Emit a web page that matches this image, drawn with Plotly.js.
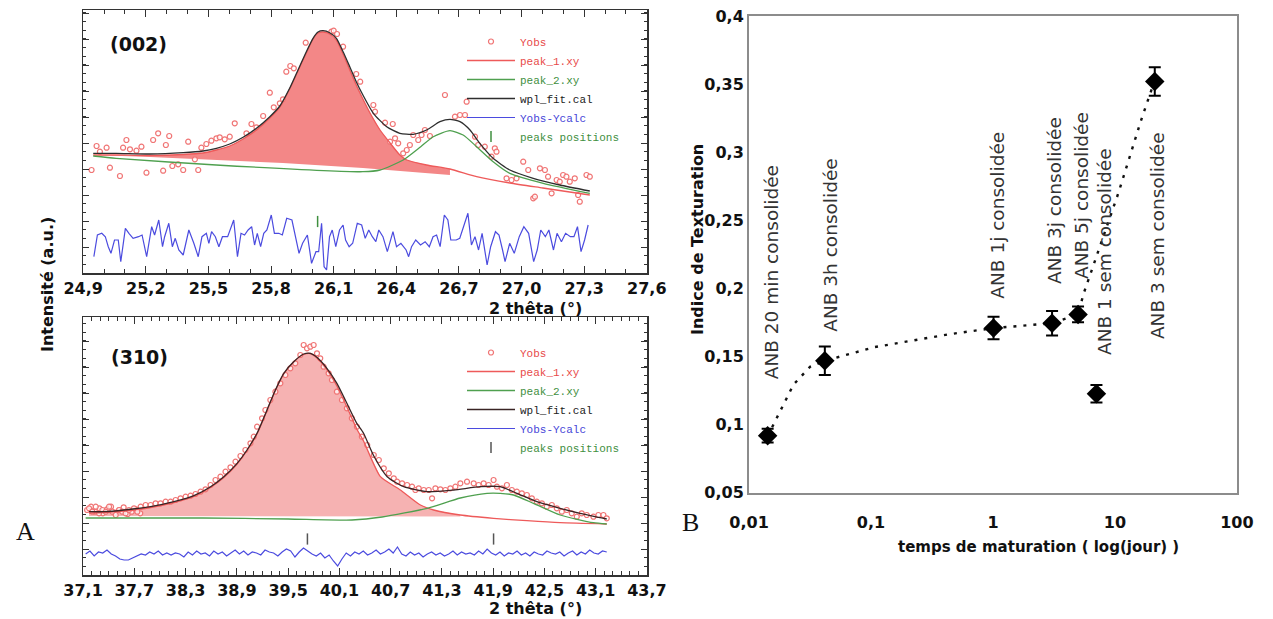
<!DOCTYPE html>
<html><head><meta charset="utf-8">
<script src="https://cdn.plot.ly/plotly-3.0.1.min.js"></script>
<style>html,body{margin:0;padding:0;background:#fff;}#chart{width:1273px;height:619px;}</style>
</head><body><div id="chart"></div>
<script>
// ================= DATA =================
// ---- Panel A top : reflection (002) ----
const topTickVals = [24.9,25.2,25.5,25.8,26.1,26.4,26.7,27.0,27.3,27.6];
const topTickText = ['24,9','25,2','25,5','25,8','26,1','26,4','26,7','27,0','27,3','27,6'];

const topObsX = [24.940,24.964,24.980,25.012,25.028,25.076,25.091,25.107,25.124,25.155,
25.179,25.203,25.235,25.259,25.283,25.296,25.312,25.327,25.355,25.379,
25.403,25.435,25.451,25.466,25.490,25.514,25.538,25.554,25.578,25.602,
25.626,25.682,25.706,25.730,25.762,25.794,25.813,25.842,25.857,25.873,
25.892,25.909,25.966,26.089,26.100,26.116,26.145,26.208,26.227,26.290,
26.298,26.346,26.370,26.383,26.394,26.409,26.433,26.450,26.465,26.481,
26.505,26.521,26.537,26.561,26.633,26.681,26.705,26.729,26.737,26.777,
26.792,26.824,26.856,26.872,26.880,26.928,26.952,26.976,27.008,27.032,
27.056,27.064,27.088,27.112,27.127,27.144,27.168,27.183,27.199,27.215,
27.231,27.255,27.271,27.279,27.311,27.327];
const topObsY = [103,127,121.3,125.3,105.3,97,125.3,133,123.7,122.3,
126.3,100.3,133,139.7,102.3,128,137,107,108.7,103,
131.3,113.7,103,125.3,129,132.3,134.7,135.7,133.7,136.3,
149.7,139.7,149,145.7,157,180.3,165.7,169.7,173.7,201.3,
207,204.7,230.3,241.3,242.3,239,226.3,199,191.3,168,
161.3,150.3,131.3,149,134.7,129.7,119.7,123,128,138,
133,138,143,137,178,156.3,158,158,171.3,136.3,
128,126.3,116.3,124.7,121.3,94.7,93,94.7,111.3,103,
74.7,76.3,104.7,103,96.3,79.7,93,91.3,98,96.3,
91.3,94.7,78,71.3,98,96.3];

const topPeak1X = [24.948,25.059,25.219,25.379,25.474,25.538,25.602,25.666,25.730,25.794,
25.842,25.889,25.929,25.969,26.001,26.025,26.049,26.081,26.113,26.145,
26.177,26.208,26.240,26.274,26.322,26.370,26.417,26.450,26.545,26.657,
26.785,26.944,27.102,27.327];
const topPeak1Y = [118,118,117.5,118.5,120,123,127,134,143,155,
166,184,202,220,234,240,241,239,233,219,
203,188,174,160,143,130,118,113,108,104,
96.3,90,85,78];
const topBaseX = [24.948,25.221,25.857,26.240,26.657];
const topBaseY = [118,116,110,105,98];

const topPeak2X = [24.948,25.058,25.537,26.240,26.322,26.433,26.517,26.577,26.657,26.720,26.785,26.864,26.944,27.104,27.327];
const topPeak2Y = [117,114.7,108,101.3,103,113,126.3,136.3,142.3,138,126.3,111.3,99.7,89.7,79.7];

const topFitX = [24.948,25.059,25.219,25.379,25.474,25.538,25.602,25.666,25.730,25.794,
25.842,25.889,25.929,25.969,26.001,26.025,26.049,26.081,26.113,26.145,
26.177,26.208,26.240,26.290,26.354,26.417,26.481,26.545,26.609,26.657,
26.705,26.753,26.800,26.864,26.944,27.056,27.183,27.327];
const topFitY = [119.7,119.7,119,120.3,122,124.7,129,135.7,144.7,156.3,
167,184.7,203,221.3,234.7,241,242.3,240.3,234.7,221.3,
206.3,191.3,178,159.7,146.3,139.7,138.7,143,151.3,153.7,
151.3,143,129.7,114.7,103,94.7,88,82];

const topResX = [24.951,24.968,24.989,25.006,25.020,25.033,25.050,25.068,25.080,25.102,
25.119,25.139,25.165,25.182,25.204,25.228,25.242,25.262,25.280,25.290,
25.310,25.327,25.341,25.358,25.379,25.406,25.430,25.451,25.469,25.490,
25.502,25.515,25.533,25.550,25.567,25.592,25.621,25.639,25.656,25.673,
25.690,25.707,25.721,25.734,25.750,25.765,25.780,25.801,25.816,25.837,
25.854,25.875,25.900,25.917,25.934,25.951,25.974,25.994,26.015,26.028,
26.042,26.054,26.066,26.080,26.093,26.110,26.128,26.145,26.157,26.174,
26.191,26.213,26.234,26.251,26.268,26.285,26.302,26.316,26.336,26.357,
26.384,26.401,26.422,26.447,26.459,26.473,26.493,26.516,26.538,26.558,
26.576,26.593,26.610,26.630,26.647,26.661,26.687,26.704,26.721,26.743,
26.760,26.777,26.794,26.811,26.835,26.852,26.875,26.892,26.909,26.921,
26.943,26.965,26.989,27.011,27.034,27.058,27.075,27.092,27.114,27.131,
27.153,27.170,27.191,27.211,27.234,27.251,27.268,27.285,27.302,27.319];
const topResY = [16.3,38,39.7,36.3,26.3,19.7,33,33,11.3,44.7,
39.7,34.7,36.3,38,16.3,46.3,38,53,26.3,36.3,
49.7,26.3,34.7,23,18,43,29.7,16.3,36.3,39.7,
29.7,41.3,36.3,26.3,36.3,36.3,53,16.3,39.7,38,
43,46.3,28,39.7,26.3,39.7,43,58,39.7,39.7,
38,54.7,53,36.3,19.7,29.7,38,9.7,21.3,21.3,
49.7,6.3,3,36.3,43,26.3,43,48,33,26.3,
29.7,49.7,48,34.7,43,36.3,31.3,43,36.3,21.3,
41.3,26.3,29.7,23,16.3,26.3,33,28,31.3,26.3,
36.3,38,26.3,58,53,33,33,34.7,46.3,59.7,
28,36.3,23,39.7,8,26.3,41.3,38,23,11.3,
29.7,19.7,36.3,46.3,39.7,11.3,23,43,36.3,43,
23,39.7,31.3,39.7,36.3,36.3,46.3,21.3,33,48];

const topPeakPosX = [26.023];
const topPeakPosY = [51.5];
const topFillEnd = 26.657;

// ---- Panel A bottom : reflection (310) ----
const botTickVals = [37.1,37.7,38.3,38.9,39.5,40.1,40.7,41.3,41.9,42.5,43.1,43.7];
const botTickText = ['37,1','37,7','38,3','38,9','39,5','40,1','40,7','41,3','41,9','42,5','43,1','43,7'];

const botObsX = [37.147,37.193,37.240,37.291,37.330,37.380,37.427,37.474,37.524,37.575,
37.622,37.669,37.719,37.769,
37.170,37.209,37.248,37.287,37.326,37.365,37.404,37.443,37.482,37.521,
37.559,37.598,37.637,37.696,37.735,37.774,37.832,37.891,37.949,38.007,
38.066,38.124,38.183,38.241,38.300,38.358,38.416,38.475,38.533,38.592,
38.650,38.708,38.767,38.825,38.884,38.942,39.000,39.059,39.098,39.137,
39.195,39.234,39.292,39.351,39.409,39.468,39.526,39.584,39.643,39.682,
39.721,39.760,39.799,39.838,39.876,39.915,39.974,40.013,40.071,40.130,
40.188,40.246,40.305,40.363,
40.426,40.503,40.562,40.620,40.679,40.737,40.776,40.834,40.893,40.951,
40.990,41.029,41.088,41.146,41.185,41.224,41.282,41.341,41.399,41.458,
41.516,41.594,41.672,41.730,41.789,41.847,41.905,41.944,42.003,42.061,
42.119,42.178,42.236,42.295,42.353,42.411,42.470,42.528,42.587,42.645,
42.704,42.762,42.820,42.879,42.937,42.996,43.074,43.132,43.191,43.230];
const botObsY = [65,68.3,63.3,66.7,61.7,65.7,68.3,62.3,65,67.7,
61,63.3,65.7,61.7,
66.7,63.3,68.3,61.7,65,63.3,68.3,63.3,60,65,
63.3,61.7,65,66.7,63.3,68.3,70,70,71.7,71.7,
73.3,73.3,75,76.7,78.3,79.3,81,83.3,85.7,90,
95,98.3,103.3,107.7,113.3,119,125,131.7,138.3,148.3,
156.7,165,175,183.3,191.7,200,206.7,211.7,220,230,
226.7,228.3,230,221.7,216.7,208.3,201.7,195,183.3,175,
166.7,156.7,148.3,138.3,
130,120,115,106.7,101.7,96.7,93.3,91.7,90,88.3,
85,86.7,85,85,76.7,86.7,85.7,85,86.7,88.3,
91.7,93.3,91.7,90,91.7,90,95,88.3,86.7,90,
85,83.3,81.7,80,76.7,73.3,71.7,68.3,70,66.7,
63.3,65,61.7,58.3,61.7,60,58.3,60,60,56.7];

const botPeak1X = [37.170,37.345,37.579,37.891,38.163,38.397,38.592,38.747,38.903,39.019,
39.136,39.253,39.351,39.449,39.565,39.682,39.760,39.837,39.954,40.071,
40.188,40.304,40.383,40.581,40.815,41.049,41.204,41.516,41.905,42.295,
42.684,43.230];
const botPeak1Y = [62,62.5,64,67.5,72.5,78.5,87.5,97.5,111,124.5,
141,164.5,184.5,201,213,220.5,221.5,217,205.5,189,
168,146,134,98.3,85,70,65,60,56.7,54.3,
52.3,51];
const botBaseX = [37.170,41.516];
const botBaseY = [59,58.5];

const botPeak2X = [37.130,38.500,39.500,40.248,40.600,41.127,41.516,41.828,41.983,42.139,42.372,42.684,43.073,43.230];
const botPeak2Y = [57,57,56,55,58,66.7,77,81.7,81.7,80,71.7,60,52.3,51];

const botFitX = [37.170,37.345,37.579,37.891,38.163,38.397,38.592,38.747,38.903,39.019,
39.136,39.253,39.351,39.449,39.565,39.682,39.760,39.837,39.954,40.071,
40.188,40.304,40.383,40.503,40.660,40.854,41.127,41.438,41.750,41.983,
42.178,42.412,42.684,42.918,43.230];
const botFitY = [63.3,63.3,65,68.3,73.3,79.3,88.3,98.3,111.7,125,
141.7,165,185,201.7,213.3,221,221.7,217.7,206.7,191.7,
171.7,151.7,141.7,119,98.3,88.3,83.3,85,88.3,88.3,
81.7,73.3,66.7,61.7,56];

const botResX = [37.13,37.18,37.23,37.28,37.33,37.38,37.43,37.48,37.53,37.58,
37.63,37.68,37.73,37.78,37.83,37.88,37.93,37.98,38.03,38.08,
38.13,38.18,38.23,38.28,38.33,38.38,38.43,38.48,38.53,38.58,
38.63,38.68,38.73,38.78,38.83,38.88,38.93,38.98,39.03,39.08,
39.13,39.18,39.23,39.28,39.33,39.38,39.43,39.48,39.53,39.58,
39.63,39.68,39.73,39.78,39.83,39.88,39.93,39.98,40.03,40.08,
40.13,40.18,40.23,40.28,40.33,40.38,40.43,40.48,40.53,40.58,
40.63,40.68,40.73,40.78,40.83,40.88,40.93,40.98,41.03,41.08,
41.13,41.18,41.23,41.28,41.33,41.38,41.43,41.48,41.53,41.58,
41.63,41.68,41.73,41.78,41.83,41.88,41.93,41.98,42.03,42.08,
42.13,42.18,42.23,42.28,42.33,42.38,42.43,42.48,42.53,42.58,
42.63,42.68,42.73,42.78,42.83,42.88,42.93,42.98,43.03,43.08,
43.13,43.18,43.23];
const botResY = [21,24,19,23,22,25,21,19,16,15,
15,17,19,21,20,23,21,24,20,22,
20,22,21,18,23,20,24,21,22,19,
24,21,23,19,22,25,21,24,20,23,
22,20,25,23,22,19,23,26,24,18,
23,27,24,21,19,22,17,20,14,9,
16,22,19,23,21,24,20,22,25,21,
23,26,22,28,21,19,23,20,22,18,
21,23,20,22,19,21,24,20,23,21,
22,20,24,21,26,22,20,23,19,22,
21,24,20,22,19,23,21,20,24,22,
21,23,19,22,24,20,23,21,25,22,
21,24,23];

const botPeakPosX = [39.726,41.905];
const botPeakPosY = [36,36];
const botFillEnd = 41.516;

// ---- Panel B : texturation index vs maturation time ----
const samples = ['ANB 20 min consolidée','ANB 3h consolidée','ANB 1j consolidée','ANB 3j consolidée','ANB 5j consolidée','ANB 1 sem consolidée','ANB 3 sem consolidée'];
const maturationDays = [0.0142,0.0418,1.01,3.05,4.98,7.05,21.2];
const texturation = [0.092,0.147,0.171,0.1745,0.181,0.1227,0.352];
const texturationErr = [0.005,0.0105,0.0083,0.009,0.0058,0.0064,0.0105];
const trendDays = [0.0142,0.0181,0.0231,0.0316,0.0418,0.107,0.433,1.01,3.05,4.98,5.52,10.7,16.3,21.2];
const trendIndex = [0.0916,0.1105,0.1294,0.1425,0.147,0.157,0.1664,0.171,0.1745,0.181,0.196,0.2705,0.323,0.353];
const rightXTickVals = [0.01,0.1,1,10,100];
const rightXTickText = ['0,01','0,1','1','10','100'];
const rightYTickVals = [0.05,0.1,0.15,0.2,0.25,0.3,0.35,0.4];
const rightYTickText = ['0,05','0,1','0,15','0,2','0,25','0,3','0,35','0,4'];

// ================= STYLE / LAYOUT =================
const W = 1273, H = 619;
const fx = p => p / W, fy = p => 1 - p / H;
const RED = '#ee5a5a', OBS = '#f07575', GREEN = '#4fa04f', BLACK = '#2e2e2e', BLUE = '#4b4bdf';
const span = (c, t) => '<span style="color:' + c + '">' + t + '</span>';

function filterUpTo(xs, ys, lim) {
  const ox = [], oy = [];
  xs.forEach((v, i) => { if (v <= lim + 1e-9) { ox.push(v); oy.push(ys[i]); } });
  return [ox, oy];
}

function panelTraces(ax, ay, lg, d) {
  const [fX, fY] = filterUpTo(d.p1x, d.p1y, d.fillEnd);
  return [
    {x: d.bx, y: d.by, xaxis: ax, yaxis: ay, mode: 'lines', line: {width: 0, color: 'rgba(0,0,0,0)'}, showlegend: false, hoverinfo: 'skip'},
    {x: fX, y: fY, xaxis: ax, yaxis: ay, mode: 'lines', fill: 'tonexty', fillcolor: d.fillColor, line: {width: 0, color: 'rgba(0,0,0,0)'}, showlegend: false, hoverinfo: 'skip'},
    {x: d.ox, y: d.oy, xaxis: ax, yaxis: ay, mode: 'markers', name: span('#e84a4a', 'Yobs'), legend: lg, legendrank: 1,
      marker: {symbol: 'circle', size: 5, color: 'rgba(255,255,255,0.75)', line: {color: OBS, width: 1.2}}},
    {x: d.p1x, y: d.p1y, xaxis: ax, yaxis: ay, mode: 'lines', name: span('#e84a4a', 'peak_1.xy'), legend: lg, legendrank: 2, line: {color: RED, width: 1.3, shape: 'spline', smoothing: 0.6}},
    {x: d.p2x, y: d.p2y, xaxis: ax, yaxis: ay, mode: 'lines', name: span('#3f8f3f', 'peak_2.xy'), legend: lg, legendrank: 3, line: {color: GREEN, width: 1.3, shape: 'spline', smoothing: 0.6}},
    {x: d.fx, y: d.fy, xaxis: ax, yaxis: ay, mode: 'lines', name: span('#222', 'wpl_fit.cal'), legend: lg, legendrank: 4, line: {color: d.fitColor, width: 1.3, shape: 'spline', smoothing: 0.6}},
    {x: d.rx, y: d.ry, xaxis: ax, yaxis: ay, mode: 'lines', name: span('#4646d8', 'Yobs-Ycalc'), legend: lg, legendrank: 5, line: {color: BLUE, width: 1.2}},
    {x: d.tx, y: d.ty, xaxis: ax, yaxis: ay, mode: 'markers', name: span('#3f8f3f', 'peaks positions'), legend: lg, legendrank: 6,
      marker: {symbol: 'line-ns', size: 8, color: d.tickColor, line: {color: d.tickColor, width: 1.5}}}
  ];
}

const traces = [].concat(
  panelTraces('x', 'y', 'legend', {p1x: topPeak1X, p1y: topPeak1Y, bx: topBaseX, by: topBaseY, fillEnd: topFillEnd, fillColor: '#f38787',
    ox: topObsX, oy: topObsY, p2x: topPeak2X, p2y: topPeak2Y, fx: topFitX, fy: topFitY, rx: topResX, ry: topResY,
    tx: topPeakPosX, ty: topPeakPosY, tickColor: '#3f8f3f', fitColor: BLACK}),
  panelTraces('x2', 'y2', 'legend2', {p1x: botPeak1X, p1y: botPeak1Y, bx: botBaseX, by: botBaseY, fillEnd: botFillEnd, fillColor: '#f6b2b2',
    ox: botObsX, oy: botObsY, p2x: botPeak2X, p2y: botPeak2Y, fx: botFitX, fy: botFitY, rx: botResX, ry: botResY,
    tx: botPeakPosX, ty: botPeakPosY, tickColor: '#555', fitColor: '#3a2424'}),
  [
    {x: trendDays, y: trendIndex, xaxis: 'x3', yaxis: 'y3', mode: 'lines', showlegend: false,
      line: {color: '#111', width: 2.4, dash: '3px,7px'}},
    {x: maturationDays, y: texturation, text: samples, xaxis: 'x3', yaxis: 'y3', mode: 'markers', showlegend: false,
      marker: {symbol: 'diamond', size: 15, color: '#000'},
      error_y: {type: 'data', array: texturationErr, visible: true, color: '#000', thickness: 2, width: 6}}
  ]
);

const tickFont = {family: 'DejaVu Sans, sans-serif', size: 16, weight: 'bold', color: '#111'};
const leftX = (vals, text, range) => ({
  domain: [fx(83), fx(647)], range: range, tickmode: 'array', tickvals: vals, ticktext: text,
  showline: true, mirror: 'ticks', linecolor: '#333', linewidth: 1.5, ticks: 'inside', ticklen: 7, tickcolor: '#333',
  minor: {tickmode: 'linear', tick0: vals[0], dtick: 0.1, ticks: 'inside', ticklen: 4, tickcolor: '#333'},
  showgrid: false, zeroline: false, tickfont: tickFont
});
const leftY = (dom, range) => ({
  domain: dom, range: range, tickmode: 'linear', tick0: 0, dtick: 26, showticklabels: false,
  showline: true, mirror: 'ticks', linecolor: '#333', linewidth: 1.5, ticks: 'inside', ticklen: 6, tickcolor: '#333',
  minor: {tickmode: 'linear', tick0: 0, dtick: 8.667, ticks: 'inside', ticklen: 3, tickcolor: '#333'},
  showgrid: false, zeroline: false
});

const legendBase = {xanchor: 'left', yanchor: 'top', bgcolor: 'rgba(0,0,0,0)', borderwidth: 0, traceorder: 'normal',
  font: {family: 'Liberation Mono, monospace', size: 11}, itemwidth: 48, tracegroupgap: 0};

const titleFont = {family: 'DejaVu Sans, sans-serif', size: 16, weight: 'bold', color: '#111'};
const annLabelX = [-1.82, -1.33, 0.03, 0.50, 0.73, 0.92, 1.35];
const annLabelY = [0.212, 0.232, 0.254, 0.265, 0.268, 0.227, 0.239];
const panelFont = {family: 'DejaVu Sans, sans-serif', size: 19, weight: 'bold', color: '#111'};
const serif = {family: 'Liberation Serif, serif', size: 26, color: '#111'};

const annotations = [
  {text: '(002)', x: fx(138), y: fy(44), font: panelFont},
  {text: '(310)', x: fx(139), y: fy(357), font: panelFont},
  {text: '2 thêta (°)', x: fx(535), y: fy(308), font: titleFont},
  {text: '2 thêta (°)', x: fx(535), y: fy(608), font: titleFont},
  {text: 'Intensité (a.u.)', x: fx(47), y: fy(285), textangle: -90, font: titleFont},
  {text: 'Indice de Texturation', x: fx(697), y: fy(240), textangle: -90, font: titleFont},
  {text: 'temps de maturation ( log(jour) )', x: fx(1038), y: fy(547), font: Object.assign({}, titleFont, {size: 15})},
  {text: 'A', x: fx(25), y: fy(531), font: serif},
  {text: 'B', x: fx(690), y: fy(522), font: serif}
].map(a => Object.assign({xref: 'paper', yref: 'paper', showarrow: false, xanchor: 'center', yanchor: 'middle'}, a))
.concat(samples.map((s, i) => ({text: s, xref: 'x3', yref: 'y3', x: annLabelX[i], y: annLabelY[i], textangle: -90,
  xanchor: 'center', yanchor: 'middle', showarrow: false, font: {family: 'DejaVu Sans, sans-serif', size: 18.5, color: '#333'}})));

const layout = {
  width: W, height: H, margin: {l: 0, r: 0, t: 0, b: 0}, paper_bgcolor: '#fff', plot_bgcolor: '#fff',
  showlegend: true, hovermode: false,
  xaxis: Object.assign(leftX(topTickVals, topTickText, [24.899, 27.601]), {anchor: 'y'}),
  yaxis: Object.assign(leftY([fy(273), fy(10)], [0, 263]), {anchor: 'x'}),
  xaxis2: Object.assign(leftX(botTickVals, botTickText, [37.099, 43.701]), {anchor: 'y2'}),
  yaxis2: Object.assign(leftY([fy(575), fy(317)], [0, 258]), {anchor: 'x2'}),
  xaxis3: {domain: [fx(749), fx(1237)], anchor: 'y3', type: 'log', range: [-2.0005, 2.0005], tickmode: 'array',
    tickvals: rightXTickVals, ticktext: rightXTickText, showline: true, mirror: true, linecolor: '#8c8c8c', linewidth: 2,
    ticks: '', showgrid: false, zeroline: false, tickfont: tickFont, ticklabelstandoff: 14},
  yaxis3: {domain: [fy(493), fy(16)], anchor: 'x3', range: [0.0499, 0.4001], tickmode: 'array',
    tickvals: rightYTickVals, ticktext: rightYTickText, showline: true, mirror: true, linecolor: '#8c8c8c', linewidth: 2,
    ticks: '', showgrid: false, zeroline: false, tickfont: tickFont},
  legend: Object.assign({x: fx(462), y: fy(27)}, legendBase),
  legend2: Object.assign({x: fx(462), y: fy(338)}, legendBase),
  annotations: annotations
};

Plotly.newPlot('chart', traces, layout, {displayModeBar: false, staticPlot: true});
</script></body></html>
